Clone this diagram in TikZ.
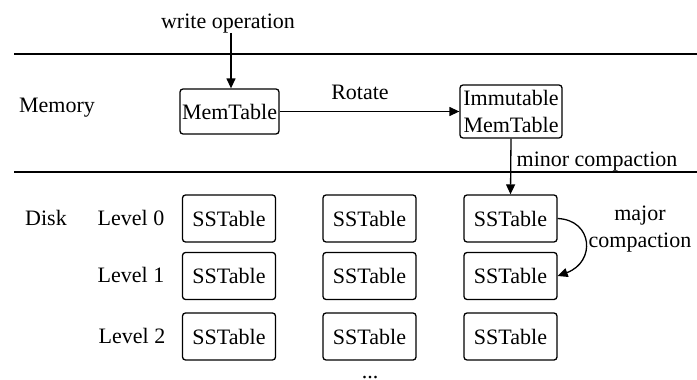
\documentclass[tikz,border=0pt]{standalone}
\usepackage{fontspec}
\setmainfont{Liberation Serif}
\usetikzlibrary{arrows.meta}
\begin{document}
\begin{tikzpicture}[x=1pt,y=-1pt,
  font=\fontsize{22}{27}\selectfont,
  lw/.style={line width=1.3pt},
  box/.style={draw, lw, rounded corners=3pt, inner sep=0pt, align=center},
  sst/.style={box, minimum width=93pt, minimum height=47pt},
  lbl/.style={inner sep=0pt, anchor=base},
  arr/.style={lw, -{Triangle[length=10pt,width=9pt]}}]
\useasboundingbox (0,0) rectangle (697,380);
% separators
\coordinate (l1a) at (14,54); \coordinate (l1b) at (697,54);
\coordinate (l2a) at (14,172); \coordinate (l2b) at (697,172);
\draw[lw] (l1a) -- (l1b);
\draw[lw] (l2a) -- (l2b);
% labels
\node[lbl] (wo) at (228,28) {write operation};
\node[lbl] (memlbl) at (57,112) {Memory};
\node[lbl] (rot) at (360,99) {Rotate};
\node[lbl] (minor) at (597,166) {minor compaction};
\node[lbl] (disk) at (46,225) {Disk};
\node[lbl] (lv0) at (131,225) {Level 0};
\node[lbl] (lv1) at (131,282) {Level 1};
\node[lbl] (lv2) at (132,343) {Level 2};
\node[lbl] (maj1) at (640,220) {major};
\node[lbl] (maj2) at (640,247) {compaction};
\node[lbl] (dots) at (370,378) {...};
% memory boxes
\node[box, minimum width=99pt, minimum height=45pt] (mem) at (229.5,111.5) {MemTable};
\node[box, minimum width=102pt, minimum height=53pt] (imm) at (511,111.5) {Immutable\\MemTable};
% sstables
\foreach \c/\x in {1/229,2/369.5,3/510.5}{
  \foreach \r/\y in {0/218.5,1/276,2/336.5}{
    \node[sst] (s\r\c) at (\x,\y) {SSTable};
  }
}
% arrows
\draw[arr] (wo.south -| 231,0) -- (mem.north -| 231,0);
\draw[arr] (mem.east) -- (imm.west);
\draw[arr] (imm.south) -- (s03.north);
\draw[arr] (s03.east) .. controls (593,220) and (596,262) .. (s13.east);
\end{tikzpicture}
\end{document}
